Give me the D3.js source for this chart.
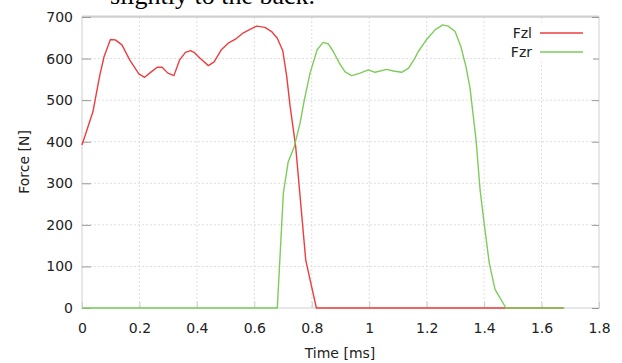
<!DOCTYPE html>
<html>
<head>
<meta charset="utf-8">
<title>Force</title>
<script src="https://d3js.org/d3.v7.min.js"></script>
<style>
  body { margin: 0; background: #fff; }
  svg { display: block; }
  .tick text { font-family: "DejaVu Sans", sans-serif; font-size: 14px; fill: #222; }
  .lbl { font-family: "DejaVu Sans", sans-serif; font-size: 14px; fill: #222; }
</style>
</head>
<body>
<div id="chart"></div>
<script>
// data
var fzlTime = [0, 0.038, 0.062, 0.077, 0.099, 0.116, 0.139, 0.166, 0.198, 0.218, 0.241, 0.262, 0.279, 0.299, 0.320, 0.340, 0.360, 0.378, 0.390, 0.411, 0.440, 0.460, 0.486, 0.509, 0.533, 0.562, 0.585, 0.608, 0.637, 0.660, 0.680, 0.699, 0.713, 0.724, 0.744, 0.779, 0.816, 1.676];
var fzlForce = [392, 472, 560, 605, 646, 645, 633, 597, 563, 555, 568, 579, 579, 565, 559, 597, 615, 619, 615, 601, 583, 592, 622, 637, 646, 662, 670, 678, 675, 665, 649, 619, 556, 488, 388, 115, 0, 0];
var fzrTime = [0, 0.680, 0.701, 0.718, 0.739, 0.759, 0.774, 0.794, 0.819, 0.840, 0.858, 0.875, 0.896, 0.916, 0.939, 0.968, 0.997, 1.020, 1.061, 1.084, 1.113, 1.137, 1.159, 1.171, 1.200, 1.229, 1.256, 1.275, 1.299, 1.319, 1.337, 1.351, 1.372, 1.386, 1.400, 1.418, 1.438, 1.476, 1.679];
var fzrForce = [0, 0, 276, 352, 388, 444, 500, 565, 622, 639, 635, 617, 589, 568, 559, 565, 573, 567, 574, 570, 567, 577, 601, 617, 646, 669, 681, 678, 665, 629, 580, 529, 404, 284, 204, 108, 45, 0, 0];
var xTicks = [0, 0.2, 0.4, 0.6, 0.8, 1, 1.2, 1.4, 1.6, 1.8];
var yTicks = [0, 100, 200, 300, 400, 500, 600, 700];
var seriesNames = ["Fzl", "Fzr"];
var seriesColors = ["#ee3d3d", "#7dcc5a"];

var W = 622, H = 363;
var margin = {top: 17, right: 23, bottom: 55, left: 82};
var width = W - margin.left - margin.right,
    height = H - margin.top - margin.bottom;

var svg = d3.select("#chart").append("svg")
  .attr("width", W).attr("height", H);

// cut-off line of the surrounding document text
svg.append("text")
  .attr("x", 110).attr("y", 4)
  .style("font-family", "'Liberation Serif', serif")
  .style("font-size", "26px")
  .style("fill", "#000")
  .text("slightly to the back.");

var g = svg.append("g")
  .attr("transform", "translate(" + margin.left + "," + margin.top + ")");

var x = d3.scaleLinear().domain([0, 1.8]).range([0, width]);
var y = d3.scaleLinear().domain([0, 700]).range([height, 0]);

// grid
g.append("g").selectAll("line").data(xTicks.slice(1, -1)).enter().append("line")
  .attr("x1", function (d) { return x(d); }).attr("x2", function (d) { return x(d); })
  .attr("y1", 0).attr("y2", height)
  .attr("stroke", "#dedede").attr("stroke-dasharray", "2,2");
g.append("g").selectAll("line").data(yTicks.slice(1, -1)).enter().append("line")
  .attr("y1", function (d) { return y(d); }).attr("y2", function (d) { return y(d); })
  .attr("x1", 0).attr("x2", width)
  .attr("stroke", "#dedede").attr("stroke-dasharray", "2,2");

// frame
g.append("rect").attr("x", 0).attr("y", 0).attr("width", width).attr("height", height)
  .attr("fill", "none").attr("stroke", "#cfcfcf").attr("stroke-width", 1);
g.append("line").attr("x1", 0).attr("x2", width).attr("y1", -0.5).attr("y2", -0.5)
  .attr("stroke", "#cfcfcf").attr("stroke-width", 2);

// axes
var yAxis = g.append("g")
  .call(d3.axisLeft(y).tickValues(yTicks).tickSize(-9).tickPadding(9).tickFormat(d3.format("d")));
var yAxisR = g.append("g")
  .attr("transform", "translate(" + width + ",0)")
  .call(d3.axisRight(y).tickValues(yTicks).tickSize(-7).tickFormat(""));
var xAxis = g.append("g")
  .attr("transform", "translate(0," + height + ")")
  .call(d3.axisBottom(x).tickValues(xTicks).tickSize(-6).tickPadding(15).tickFormat(d3.format("~g")));
[yAxis, yAxisR, xAxis].forEach(function (a) {
  a.select(".domain").remove();
  a.selectAll(".tick line").attr("stroke", "#999");
});
xAxis.selectAll(".tick line").attr("stroke", "#ccc");

// lines
var line = d3.line()
  .x(function (d) { return x(d[0]); })
  .y(function (d) { return y(d[1]); });

var fzl = fzlTime.map(function (t, i) { return [t, fzlForce[i]]; });
var fzr = fzrTime.map(function (t, i) { return [t, fzrForce[i]]; });

[fzl, fzr].forEach(function (s, i) {
  g.append("path").datum(s)
    .attr("d", line)
    .attr("fill", "none")
    .attr("stroke", seriesColors[i])
    .attr("stroke-width", 1.4)
    .attr("stroke-linejoin", "round");
});

// legend
var leg = g.append("g");
leg.append("rect").attr("x", 421).attr("y", 5).attr("width", 90).attr("height", 40).attr("fill", "#fff");
seriesNames.forEach(function (n, i) {
  var yy = 16 + i * 19;
  leg.append("text").attr("class", "lbl")
    .attr("x", 450).attr("y", yy + 5).attr("text-anchor", "end").text(n);
  leg.append("line").attr("x1", 458).attr("x2", 501).attr("y1", yy).attr("y2", yy)
    .attr("stroke", seriesColors[i]).attr("stroke-width", 1.4);
});

// axis titles
svg.append("text").attr("class", "lbl")
  .attr("x", 340).attr("y", 358).attr("text-anchor", "middle").text("Time [ms]");
svg.append("text").attr("class", "lbl")
  .attr("transform", "translate(29,162) rotate(-90)")
  .attr("text-anchor", "middle").text("Force [N]");
</script>
</body>
</html>
